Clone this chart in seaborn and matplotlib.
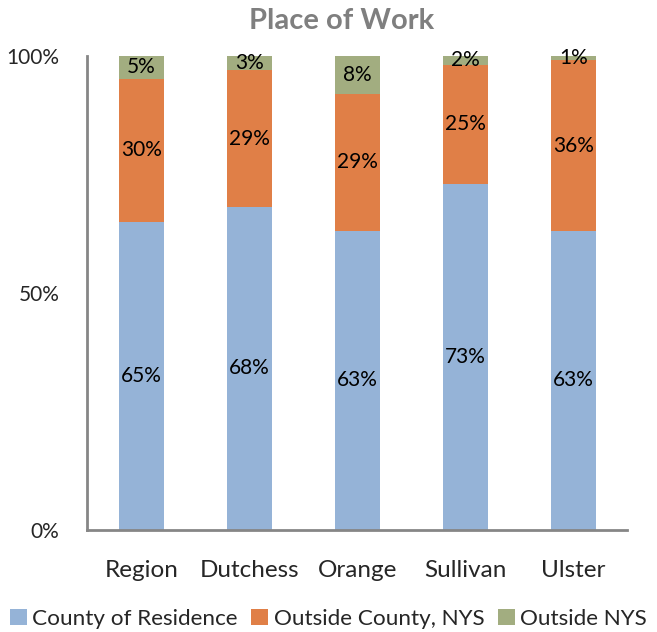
import numpy as np
import pandas as pd
import matplotlib
matplotlib.use("Agg")
import matplotlib.pyplot as plt
import seaborn as sns

# data
counties = ["Region", "Dutchess", "Orange", "Sullivan", "Ulster"]
county_of_residence = [65, 68, 63, 73, 63]
outside_county_nys = [30, 29, 29, 25, 36]
outside_nys = [5, 3, 8, 2, 1]

series_names = ["County of Residence", "Outside County, NYS", "Outside NYS"]
series_colors = ["#95B3D7", "#E07F47", "#A2AD80"]

sns.set_theme(style="white")
plt.rcParams["font.family"] = ["Lato", "DejaVu Sans"]

fig, ax = plt.subplots(figsize=(6.57, 6.32), dpi=100)
fig.subplots_adjust(left=0.133, right=0.955, top=0.912, bottom=0.162)

df = pd.DataFrame({
    "county": counties,
    series_names[0]: county_of_residence,
    series_names[1]: outside_county_nys,
    series_names[2]: outside_nys,
})

bottom = np.zeros(len(counties))
for name, color in zip(series_names, series_colors):
    vals = df[name].to_numpy(dtype=float)
    sns.barplot(x=df["county"], y=vals, bottom=bottom, color=color, saturation=1,
                width=0.41, ax=ax, label=name, edgecolor="none")
    for i, v in enumerate(vals):
        ax.text(i, bottom[i] + v / 2, f"{int(v)}%", ha="center", va="center",
                fontsize=15, color="black")
    bottom += vals

ax.set_ylim(0, 100)
ax.set_xlim(-0.5, len(counties) - 0.5)
ax.set_yticks([0, 50, 100])
ax.set_yticklabels(["0%", "50%", "100%"], fontsize=15)
ax.set_xticks(range(len(counties)))
ax.set_xticklabels(counties, fontsize=17.5)
ax.set_xlabel("")
ax.set_ylabel("")

# category boundary ticks on x axis
ax.set_xticks(np.arange(-0.5, len(counties), 1), minor=True)
ax.tick_params(axis="x", which="major", length=0, pad=22)
ax.tick_params(axis="x", which="minor", length=5, width=2, color="#868686", direction="out")
ax.tick_params(axis="y", length=6, width=2, color="#868686", direction="out", pad=14)

for side in ["top", "right"]:
    ax.spines[side].set_visible(False)
for side in ["left", "bottom"]:
    ax.spines[side].set_color("#868686")
    ax.spines[side].set_linewidth(2)

ax.set_title("Place of Work", fontsize=21, fontweight="bold", color="#7F7F7F",
             x=0.47, pad=19)

handles, labels = ax.get_legend_handles_labels()
if ax.get_legend() is not None:
    ax.get_legend().remove()
fig.legend(handles, labels, loc="lower center", bbox_to_anchor=(0.5, 0.0), ncol=3,
           frameon=False, fontsize=16.2, handlelength=0.75, handleheight=0.75,
           handletextpad=0.25, columnspacing=0.6, borderaxespad=0.0, borderpad=0.15)

plt.savefig("out.png", dpi=100)
